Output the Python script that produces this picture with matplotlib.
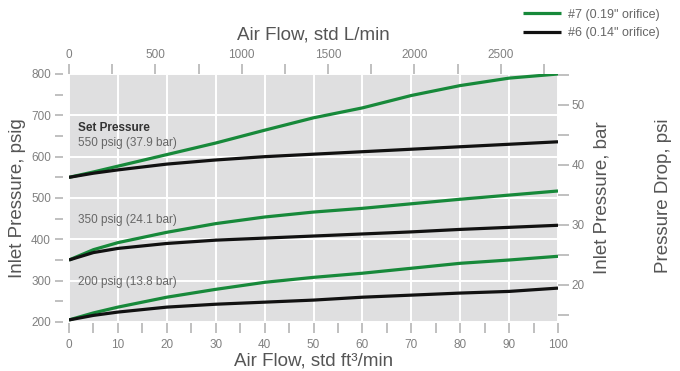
import matplotlib
matplotlib.use("Agg")
import matplotlib.pyplot as plt
from matplotlib.ticker import MultipleLocator, FixedLocator

plt.rcParams["font.family"] = ["Liberation Sans", "DejaVu Sans"]

# air flow, std ft3/min
flow = [0, 5, 10, 20, 30, 40, 50, 60, 70, 80, 90, 100]

# inlet pressure, psig
g550 = [550, 563, 577, 605, 633, 664, 694, 718, 748, 772, 790, 800]
b550 = [550, 560, 568, 582, 592, 600, 606, 612, 618, 624, 630, 636]
g350 = [350, 375, 392, 417, 438, 454, 466, 475, 486, 497, 507, 517]
b350 = [350, 368, 378, 390, 398, 403, 408, 413, 418, 424, 429, 434]
g200 = [205, 222, 236, 260, 279, 296, 308, 318, 330, 342, 350, 359]
b200 = [205, 216, 224, 236, 243, 248, 253, 260, 265, 270, 274, 282]

set_labels = ["550 psig (37.9 bar)", "350 psig (24.1 bar)", "200 psig (13.8 bar)"]
set_label_y = [633, 447, 297]
legend_labels = ['#7 (0.19" orifice)', '#6 (0.14" orifice)']

# secondary scale ticks
lpm_major = [0, 500, 1000, 1500, 2000, 2500]
lpm_minor = [250, 750, 1250, 1750, 2250, 2750]
bar_major = [20, 30, 40, 50]
bar_minor = [15, 25, 35, 45, 55]

GREEN = "#17893a"
BLACK = "#111111"
TICK = "#808080"
TITLE = "#555555"
LPM = 28.3168
BAR = 14.5038
TFS = 13.5   # axis title size
LFS = 8.5    # tick label size

fig = plt.figure(figsize=(6.8, 3.71), dpi=100)
ax = fig.add_axes([69 / 680, 49 / 371, 489 / 680, 248 / 371])
ax.set_facecolor("#dfdfe0")
ax.set_xlim(0, 100)
ax.set_ylim(200, 800)

for s in ax.spines.values():
    s.set_visible(False)
ax.spines["left"].set_position(("outward", 4))
ax.spines["bottom"].set_position(("outward", 1))

ax.grid(True, color="white", lw=1.4)
ax.set_axisbelow(True)

lw = 2.3
ax.plot(flow, g550, color=GREEN, lw=lw, label=legend_labels[0], solid_capstyle="butt")
ax.plot(flow, b550, color=BLACK, lw=lw, label=legend_labels[1], solid_capstyle="butt")
for g, b in [(g350, b350), (g200, b200)]:
    ax.plot(flow, g, color=GREEN, lw=lw, solid_capstyle="butt")
    ax.plot(flow, b, color=BLACK, lw=lw, solid_capstyle="butt")

# bottom axis
ax.xaxis.set_major_locator(MultipleLocator(10))
ax.xaxis.set_minor_locator(MultipleLocator(5))
ax.tick_params(axis="x", which="both", length=7, width=1.2, color="#b5b5b5",
               labelcolor=TICK, labelsize=LFS, pad=4)
ax.set_xlabel("Air Flow, std ft³/min", color=TITLE, fontsize=TFS, labelpad=1)

# left axis
ax.yaxis.set_major_locator(MultipleLocator(100))
ax.yaxis.set_minor_locator(MultipleLocator(50))
ax.tick_params(axis="y", which="both", length=6, width=1.2, color="#b5b5b5",
               labelcolor=TICK, labelsize=LFS, pad=3)
ax.set_ylabel("Inlet Pressure, psig", color=TITLE, fontsize=TFS, labelpad=4)

# top axis, L/min
top = ax.secondary_xaxis("top", functions=(lambda x: x * LPM, lambda x: x / LPM))
top.spines["top"].set_visible(False)
top.xaxis.set_major_locator(FixedLocator(lpm_major))
top.xaxis.set_minor_locator(FixedLocator(lpm_minor))
top.tick_params(which="both", length=7, width=1.2, color="#b5b5b5",
                labelcolor=TICK, labelsize=LFS, pad=2)
top.set_xlabel("Air Flow, std L/min", color=TITLE, fontsize=TFS, labelpad=7)

# right axis, bar
right = ax.secondary_yaxis("right", functions=(lambda p: p / BAR, lambda b: b * BAR))
right.spines["right"].set_visible(False)
right.yaxis.set_major_locator(FixedLocator(bar_major))
right.yaxis.set_minor_locator(FixedLocator(bar_minor))
right.tick_params(which="both", length=8, width=1.2, color="#b5b5b5",
                  labelcolor=TICK, labelsize=LFS, pad=2)
right.set_ylabel("Inlet Pressure, bar", color=TITLE, fontsize=TFS, labelpad=6)

fig.text(663 / 680, 1 - 196 / 371, "Pressure Drop, psi", rotation=90,
         color=TITLE, fontsize=TFS, ha="center", va="center")

# set pressure notes
ax.text(1.8, 669, "Set Pressure", fontsize=8.5, fontweight="bold", color="#333333",
        va="center")
for lab, y in zip(set_labels, set_label_y):
    ax.text(1.8, y, lab, fontsize=8.5, color="#666666", va="center")

ax.legend(loc="center left", bbox_to_anchor=(523 / 680, 1 - 24 / 371),
          bbox_transform=fig.transFigure, frameon=False, fontsize=9,
          labelcolor="#666666", handlelength=3.0, handletextpad=0.6,
          labelspacing=0.55, borderaxespad=0, borderpad=0)

fig.savefig("out.png", dpi=100)
